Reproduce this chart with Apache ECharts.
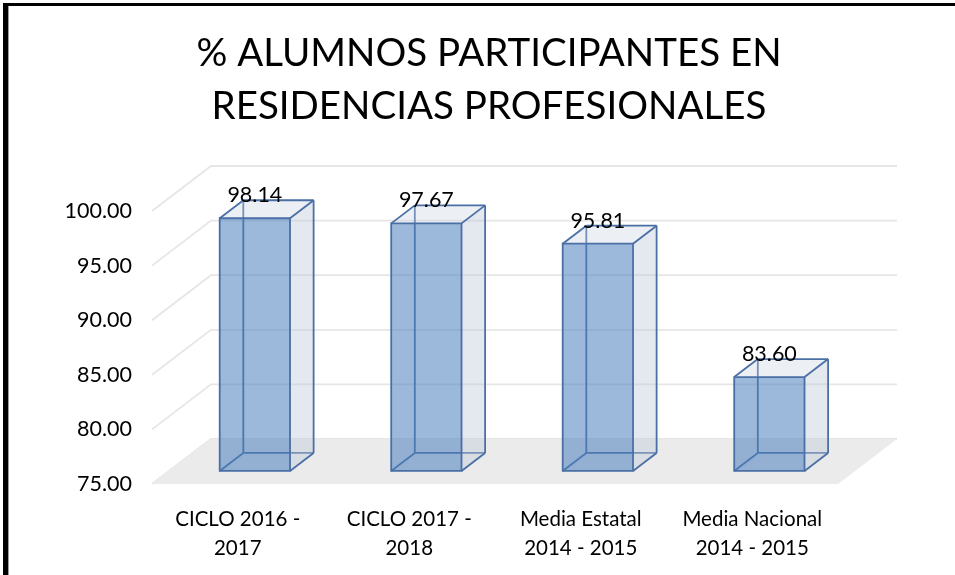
<!DOCTYPE html>
<html>
<head>
<meta charset="utf-8">
<script src="https://cdn.jsdelivr.net/npm/echarts@6/dist/echarts.min.js"></script>
<style>
html,body{margin:0;padding:0;background:#fff;}
#chart{width:955px;height:575px;}
</style>
</head>
<body>
<div id="chart"></div>
<script>
const titleText = '% ALUMNOS PARTICIPANTES EN\nRESIDENCIAS PROFESIONALES';
const categories = ['CICLO 2016 -\n2017', 'CICLO 2017 -\n2018', 'Media Estatal\n2014 - 2015', 'Media Nacional\n2014 - 2015'];
const values = [98.14, 97.67, 95.81, 83.60];
const yTicks = [75, 80, 85, 90, 95, 100];
const yMin = 75, yMax = 100, yStep = 5;

const FONT = 'Lato, "Open Sans", sans-serif';
const DX = 59, DY = -45;      // depth vector of the 3D floor
const F0 = 0.29, F1 = 0.69;   // bar depth range (fraction of floor depth)
const BAR_W = 0.41;           // bar width fraction of category band

const chart = echarts.init(document.getElementById('chart'), null, {renderer: 'canvas'});

function renderGrid(params, api) {
  const cs = params.coordSys;
  const v = api.value(1);
  const y = api.coord([0, v])[1];
  const xl = cs.x, xr = cs.x + cs.width;
  return {
    type: 'polyline',
    shape: {points: [[xl, y], [xl + DX, y + DY], [xr + DX, y + DY]]},
    style: {stroke: '#e6e6e6', lineWidth: 1.8, fill: null}
  };
}

function renderFloor(params, api) {
  const cs = params.coordSys;
  const y = api.coord([0, yMin])[1];
  const xl = cs.x, xr = cs.x + cs.width;
  return {
    type: 'polygon',
    shape: {points: [[xl, y], [xr, y], [xr + DX, y + DY], [xl + DX, y + DY]]},
    style: {fill: '#ebebeb'}
  };
}

function renderBar(params, api) {
  const cat = api.value(0), val = api.value(1);
  const pb = api.coord([cat, yMin]);
  const pt = api.coord([cat, val]);
  const band = api.size([1, 0])[0];
  const w = band * BAR_W;
  const ox = F0 * DX, oy = F0 * DY;
  const bx = (F1 - F0) * DX, by = (F1 - F0) * DY;
  const x0 = pb[0] - w / 2 + ox, x1 = x0 + w;
  const yb = pb[1] + oy, yt = pt[1] + oy;
  const stroke = '#4a6fa5';
  const lw = 1.8;
  const FBL = [x0, yb], FBR = [x1, yb], FTL = [x0, yt], FTR = [x1, yt];
  const BBL = [x0 + bx, yb + by], BBR = [x1 + bx, yb + by], BTL = [x0 + bx, yt + by], BTR = [x1 + bx, yt + by];
  const line = (a, b) => ({type: 'line', shape: {x1: a[0], y1: a[1], x2: b[0], y2: b[1]}, style: {stroke: stroke, lineWidth: lw}});
  const children = [
    line(BBL, BTL), line(BBL, BBR), line(FBL, BBL),
    {type: 'polygon', shape: {points: [FBR, BBR, BTR, FTR]}, style: {fill: 'rgba(190,200,218,0.42)'}},
    {type: 'polygon', shape: {points: [FTL, FTR, BTR, BTL]}, style: {fill: 'rgba(200,208,224,0.35)'}},
    {type: 'rect', shape: {x: x0, y: yt, width: w, height: yb - yt}, style: {fill: 'rgba(79,129,189,0.56)'}},
    {type: 'rect', shape: {x: x0, y: yt, width: w, height: yb - yt}, style: {fill: null, stroke: stroke, lineWidth: lw}},
    line(FBR, BBR), line(BBR, BTR), line(FTR, BTR), line(FTL, BTL), line(BTL, BTR),
    {type: 'text', x: (x0 + x1) / 2, y: yt - 23, style: {text: val.toFixed(2), fill: '#000', font: '21.5px ' + FONT, align: 'center', verticalAlign: 'middle'}}
  ];
  return {type: 'group', children: children};
}

const option = {
  animation: false,
  backgroundColor: '#fff',
  title: {
    text: titleText,
    left: 484, top: 22, textAlign: 'center',
    textStyle: {fontFamily: FONT, fontSize: 38.5, fontWeight: 'normal', color: '#000', lineHeight: 53}
  },
  grid: {left: 152, right: 117, top: 211, bottom: 91, containLabel: false},
  xAxis: {
    type: 'category', data: categories, boundaryGap: true,
    axisLine: {show: false}, axisTick: {show: false}, splitLine: {show: false},
    axisLabel: {margin: 21, color: '#000', fontFamily: FONT, fontSize: 20.5, lineHeight: 29, interval: 0}
  },
  yAxis: {
    type: 'value', min: yMin, max: yMax, interval: yStep,
    axisLine: {show: false}, axisTick: {show: false}, splitLine: {show: false},
    axisLabel: {margin: 20, color: '#000', fontFamily: FONT, fontSize: 21.5, formatter: v => v.toFixed(2)}
  },
  series: [
    {type: 'custom', z: 1, renderItem: renderGrid, data: yTicks.map(v => [0, v]), silent: true},
    {type: 'custom', z: 2, renderItem: renderFloor, data: [[0, yMin]], silent: true},
    {type: 'custom', z: 3, renderItem: renderBar, data: values.map((v, i) => [i, v])}
  ],
  graphic: [
    {type: 'rect', shape: {x: 3, y: 3, width: 952, height: 3}, style: {fill: '#000'}, z: 100},
    {type: 'rect', shape: {x: 3, y: 3, width: 5, height: 572}, style: {fill: '#000'}, z: 100},
    {type: 'rect', shape: {x: 8, y: 6, width: 1, height: 569}, style: {fill: '#9a9a9a'}, z: 100}
  ]
};
chart.setOption(option);
</script>
</body>
</html>
